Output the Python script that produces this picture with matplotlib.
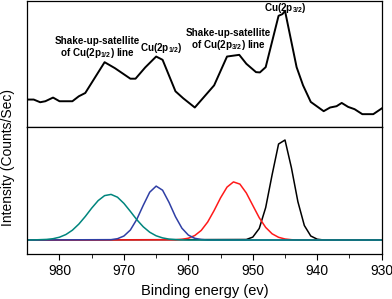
import matplotlib
matplotlib.use('Agg')
import matplotlib.pyplot as plt

# XPS Cu 2p spectrum, measured (top) and fitted components (bottom)

plt.rcParams['font.family'] = 'Liberation Sans'
plt.rcParams['mathtext.fontset'] = 'custom'
plt.rcParams['mathtext.rm'] = 'Liberation Sans'
plt.rcParams['mathtext.bf'] = 'Liberation Sans:bold'

# measured spectrum (arbitrary units)
energy_raw = [985, 984, 983, 982.2, 981, 980, 978, 977, 976, 973, 971.4, 969, 968.2,
              966.7, 965, 964, 962, 960.8, 959, 956, 954, 952.1, 951, 949.5, 948.9,
              948, 946, 945.4, 945, 943.2, 942.2, 941, 939, 938, 937, 936.2, 935.2,
              934.2, 933, 931.3, 930]
counts_raw = [27.7, 27.7, 25, 26, 29.7, 26, 26, 31, 34.3, 65.3, 59.3, 48.7, 48.7,
              60, 71, 67.7, 36, 29, 19.7, 42, 71, 72.7, 63.7, 55.3, 55,
              60.3, 112, 113.7, 117, 60.3, 42, 25.3, 16, 19.7, 21, 24.3, 20.3,
              18, 13, 13, 18.7]

# fitted peaks
e_sat12 = [985, 984, 982, 981, 980, 979, 978, 977, 976, 975, 974, 973, 972, 971, 970,
           969, 968, 967, 966, 965, 964, 963, 962, 961, 960, 930]
i_sat12 = [0, 0.1, 0.6, 1.3, 2.8, 5.5, 9.8, 15.9, 23.5, 31.9, 39.4, 44.4, 45.6, 42.8, 36.6,
           28.6, 20.3, 13.2, 7.8, 4.2, 2.1, 0.9, 0.4, 0.15, 0, 0]

e_p12 = [985, 972, 971, 970, 969, 968, 967, 966, 965, 964, 963, 962, 961, 960, 959, 958, 957, 930]
i_p12 = [0, 0.35, 1.3, 4.0, 10.0, 20.7, 34.7, 47.8, 53.9, 49.8, 37.6, 23.3, 11.8, 4.9, 1.7, 0.5, 0, 0]

e_sat32 = [985, 962, 961, 960, 959, 958, 957, 956, 955, 954, 953, 952, 951, 950, 949,
           948, 947, 946, 945, 944, 943, 930]
i_sat32 = [0, 0.2, 0.7, 1.8, 4.5, 9.6, 18.0, 29.5, 42.2, 52.9, 58.1, 55.9, 47.0, 34.6, 22.3,
           12.6, 6.2, 2.7, 1.0, 0.3, 0, 0]

e_p32 = [985, 951, 950, 949, 948, 947, 946, 945, 944, 943, 942, 941, 940, 939, 930]
i_p32 = [0, 0.5, 2.9, 11.5, 32.4, 65.3, 96, 100, 72.1, 38.3, 14.5, 4.0, 0.8, 0, 0]

major = [980, 970, 960, 950, 940, 930]
minor = [975, 965, 955, 945, 935]

fig = plt.figure(figsize=(3.92, 2.99), dpi=100)
ax1 = fig.add_axes([0.0696, 0.575, 0.904, 0.422])
ax2 = fig.add_axes([0.0696, 0.1505, 0.904, 0.4247])

ax1.plot(energy_raw, counts_raw, color='black', lw=1.4)
ax1.set_xlim(985, 930)
ax1.set_ylim(0, 127)
ax1.set_yticks([])
# ticks of the top panel hang down into the lower panel
ax1.set_xticks(major[:-1])
ax1.tick_params(axis='x', direction='out', length=3.5, labelbottom=False)

bold = dict(fontsize=7.1, fontweight='bold', ha='center', va='center',
            linespacing=1.05, transform=fig.transFigure)
fig.text(97 / 392, 1 - 48 / 299, 'Shake-up-satellite\nof Cu(2p$_{\\mathbf{1/2}}$) line', **bold)
fig.text(161 / 392, 1 - 48 / 299, 'Cu(2p$_{\\mathbf{1/2}}$)', **bold)
fig.text(228 / 392, 1 - 40 / 299, 'Shake-up-satellite\nof Cu(2p$_{\\mathbf{3/2}}$) line', **bold)
fig.text(285 / 392, 1 - 8 / 299, 'Cu(2p$_{\\mathbf{3/2}}$)', **bold)

ax2.plot(e_p32, i_p32, color='black', lw=1.1)
ax2.plot(e_sat32, i_sat32, color='#ff1a1a', lw=1.1)
ax2.plot(e_p12, i_p12, color='#2f3fa5', lw=1.1)
ax2.plot(e_sat12, i_sat12, color='#00857d', lw=1.1)
ax2.set_xlim(985, 930)
ax2.set_ylim(-14, 113)
ax2.set_yticks([])
ax2.set_xticks(major)
ax2.set_xticks(minor, minor=True)
ax2.tick_params(axis='x', which='major', direction='out', length=4, labelsize=10)
ax2.tick_params(axis='x', which='minor', direction='out', length=3)
ax2.set_xlabel('Binding energy (ev)', fontsize=10.5, labelpad=4)

for ax in (ax1, ax2):
    for s in ax.spines.values():
        s.set_linewidth(0.9)

fig.text(8 / 392, 1 - 158 / 299, 'Intensity (Counts/Sec)', rotation=90,
         ha='center', va='center', fontsize=10)

fig.savefig('out.png', dpi=100)
